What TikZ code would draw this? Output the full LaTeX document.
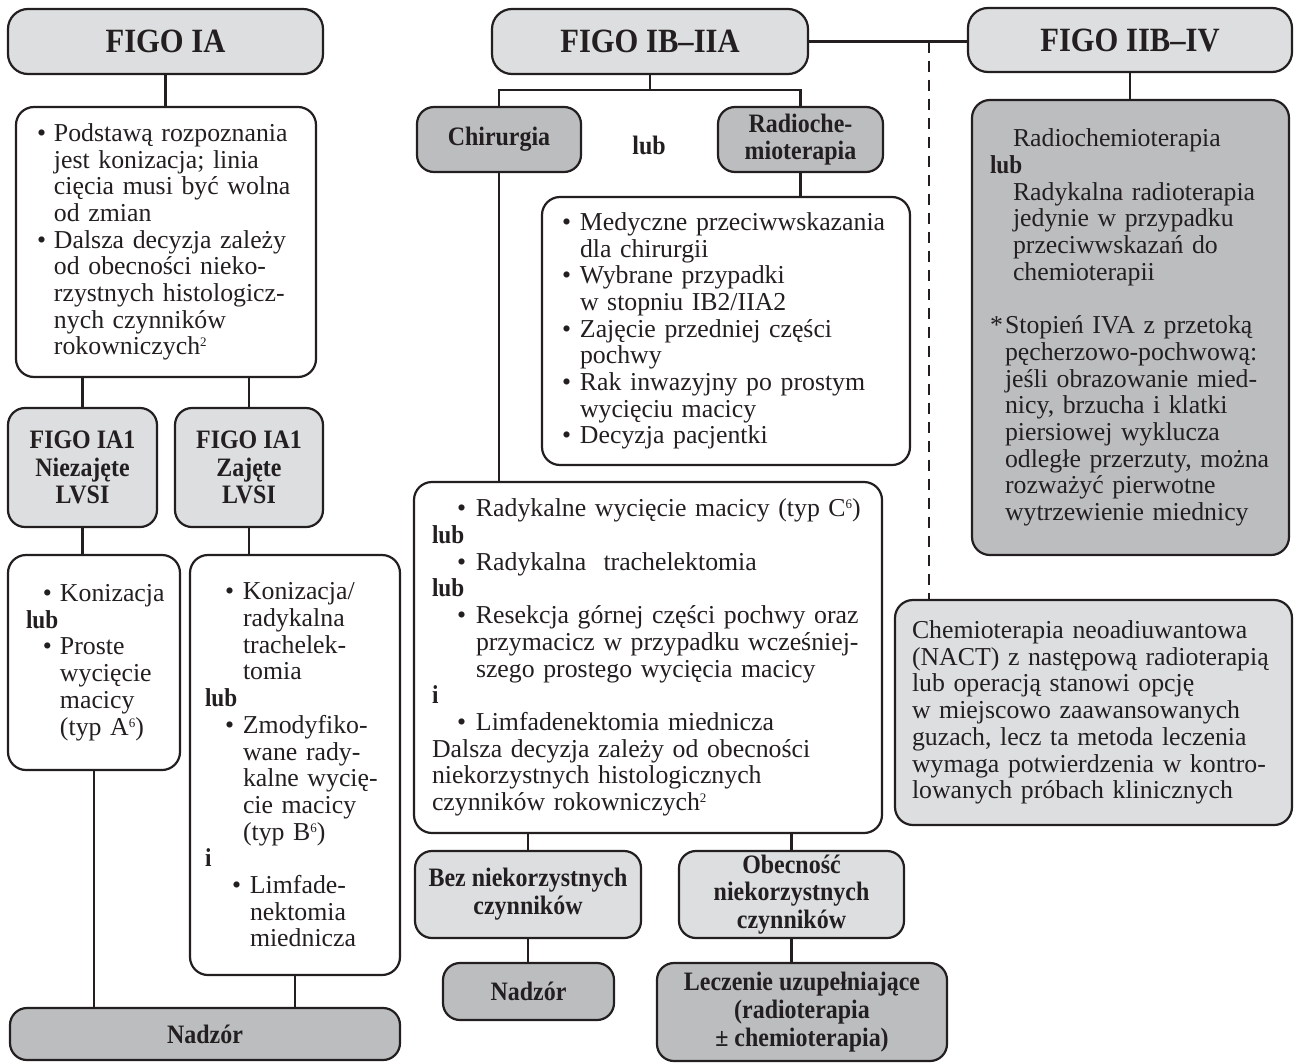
\documentclass[tikz,border=0pt]{standalone}
\usepackage{fontspec}
\setmainfont{Liberation Serif}[BoldFeatures={FakeStretch=0.9}]
\definecolor{ink}{HTML}{231F20}
\definecolor{lightg}{HTML}{DDDEE0}
\definecolor{darkg}{HTML}{BCBDBF}
\newcommand\bodyfont{\fontsize{25.8}{26.7}\selectfont}
\newcommand\headfont{\bfseries\fontsize{26.6}{27.8}\selectfont}
\newcommand\titlefont{\bfseries\fontsize{34}{36}\selectfont}
\newcommand\bl[1][17]{\makebox[#1pt][l]{\textbullet}}
\newcommand\ind[1]{\hspace*{#1pt}}
\newcommand\sups[1]{\raisebox{8pt}{\fontsize{13}{13}\selectfont #1}}
\newcommand\LS[1]{\leftskip=#1pt\relax\rightskip=0pt plus 1fil\relax\parindent=0pt\relax\hyphenpenalty=10000\relax}
\tikzset{
  basebox/.style={draw=ink, line width=2.2pt, inner sep=0pt, text=ink},
  titlebox/.style={basebox, fill=lightg, rounded corners=20pt, font=\titlefont, align=center},
  hbox/.style={basebox, rounded corners=17pt, font=\headfont, align=center},
  tbox/.style={basebox, rounded corners=18pt, font=\bodyfont, align=left},
  conn/.style={draw=ink, line width=2.2pt},
  dconn/.style={conn, dash pattern=on 11pt off 8pt}
}
\begin{document}
\begin{tikzpicture}[x=1pt,y=-1pt]
\useasboundingbox (0,0) rectangle (1298,1063);

% titles
\node[titlebox, minimum width=315pt, minimum height=65pt] (figoIA) at (165.5,41.5) {FIGO IA};
\node[titlebox, minimum width=316pt, minimum height=65pt] (figoIB) at (650,41.5) {FIGO IB–IIA};
\node[titlebox, minimum width=324pt, minimum height=64pt] (figoIIB) at (1130,40) {FIGO IIB–IV};

% left column
\node[tbox, fill=white, text width=300pt, minimum height=270pt] (iadesc) at (166,242) {\LS{21}\bl Podstawą rozpoznania\\
\ind{17}jest konizacja; linia\\
\ind{17}cięcia musi być wolna\\
\ind{17}od zmian\\
\bl Dalsza decyzja zależy\\
\ind{17}od obecności nieko-\\
\ind{17}rzystnych histologicz-\\
\ind{17}nych czynników\\
\ind{17}rokowniczych\sups{2}\par};

\node[hbox, fill=lightg, minimum width=149pt, minimum height=119pt] (ia1n) at (82.5,467.5) {FIGO IA1\\Niezajęte\\LVSI};
\node[hbox, fill=lightg, minimum width=148pt, minimum height=119pt] (ia1z) at (249,467.5) {FIGO IA1\\Zajęte\\LVSI};

\node[tbox, fill=white, text width=172pt, minimum height=215pt] (koniz) at (94,662.5) {\LS{18}\ind{17}\bl Konizacja\\
\textbf{lub}\\
\ind{17}\bl Proste\\
\ind{34}wycięcie\\
\ind{34}macicy\\
\ind{34}(typ A\sups{6})\par};

\node[tbox, fill=white, text width=210pt, minimum height=420pt] (koniz2) at (295,765) {\LS{15}\ind{20}\bl[18]Konizacja/\\
\ind{38}radykalna\\
\ind{38}trachelek-\\
\ind{38}tomia\\
\textbf{lub}\\
\ind{20}\bl[18]Zmodyfiko-\\
\ind{38}wane rady-\\
\ind{38}kalne wycię-\\
\ind{38}cie macicy\\
\ind{38}(typ B\sups{6})\\
\textbf{i}\\
\ind{27}\bl[18]Limfade-\\
\ind{45}nektomia\\
\ind{45}miednicza\par};

\node[hbox, fill=darkg, minimum width=390pt, minimum height=52pt] (nadzor1) at (205,1034) {Nadzór};

% middle column
\node[hbox, fill=darkg, minimum width=164pt, minimum height=65pt] (chir) at (499,139.5) {Chirurgia};
\node[font=\headfont, text=ink] (lubmid) at (649,145) {lub};
\node[hbox, fill=darkg, minimum width=165pt, minimum height=65pt] (radio) at (800.5,139.5) {Radioche-\\mioterapia};

\node[tbox, fill=white, text width=368pt, minimum height=268pt] (medy) at (726,331) {\LS{20}\bl[18]Medyczne przeciwwskazania\\
\ind{18}dla chirurgii\\
\bl[18]Wybrane przypadki\\
\ind{18}w stopniu IB2/IIA2\\
\bl[18]Zajęcie przedniej części\\
\ind{18}pochwy\\
\bl[18]Rak inwazyjny po prostym\\
\ind{18}wycięciu macicy\\
\bl[18]Decyzja pacjentki\par};

\node[tbox, fill=white, text width=468pt, minimum height=351pt] (big) at (648,657.5) {\LS{18}\ind{25}\bl[19]Radykalne wycięcie macicy (typ C\sups{6})\\
\textbf{lub}\\
\ind{25}\bl[19]Radykalna\ \ trachelektomia\\
\textbf{lub}\\
\ind{25}\bl[19]Resekcja górnej części pochwy oraz\\
\ind{44}przymacicz w przypadku wcześniej-\\
\ind{44}szego prostego wycięcia macicy\\
\textbf{i}\\
\ind{25}\bl[19]Limfadenektomia miednicza\\
Dalsza decyzja zależy od obecności\\
niekorzystnych histologicznych\\
czynników rokowniczych\sups{2}\par};

\node[hbox, fill=lightg, minimum width=226pt, minimum height=87pt] (bez) at (528,894.5) {Bez niekorzystnych\\czynników};
\node[hbox, fill=lightg, minimum width=225pt, minimum height=87pt] (obec) at (791.5,894.5) {Obecność\\niekorzystnych\\czynników};
\node[hbox, fill=darkg, minimum width=171pt, minimum height=57pt] (nadzor2) at (528.5,991.5) {Nadzór};
\node[hbox, fill=darkg, minimum width=290pt, minimum height=98pt] (lecz) at (802,1012) {Leczenie uzupełniające\\(radioterapia\\± chemioterapia)};

% right column
\node[tbox, fill=darkg, text width=317pt, minimum height=455pt] (rbox) at (1130.5,327.5) {\LS{18}\ind{23}Radiochemioterapia\\
\textbf{lub}\\
\ind{23}Radykalna radioterapia\\
\ind{23}jedynie w przypadku\\
\ind{23}przeciwwskazań do\\
\ind{23}chemioterapii\\[26.7pt]
\makebox[15pt][l]{*}Stopień IVA z przetoką\\
\ind{15}pęcherzowo-pochwową:\\
\ind{15}jeśli obrazowanie mied-\\
\ind{15}nicy, brzucha i klatki\\
\ind{15}piersiowej wyklucza\\
\ind{15}odległe przerzuty, można\\
\ind{15}rozważyć pierwotne\\
\ind{15}wytrzewienie miednicy\par};

\node[tbox, fill=lightg, text width=397pt, minimum height=225pt] (nact) at (1093.5,712.5) {\LS{17}Chemioterapia neoadiuwantowa\\
(NACT) z następową radioterapią\\
lub operacją stanowi opcję\\
w miejscowo zaawansowanych\\
guzach, lecz ta metoda leczenia\\
wymaga potwierdzenia w kontro-\\
lowanych próbach klinicznych\par};

% connectors
\draw[conn] (figoIA.south) -- (figoIA.south |- iadesc.north);
\draw[conn] (ia1n.north |- iadesc.south) -- (ia1n.north);
\draw[conn] (ia1z.north |- iadesc.south) -- (ia1z.north);
\draw[conn] (ia1n.south) -- (ia1n.south |- koniz.north);
\draw[conn] (ia1z.south) -- (ia1z.south |- koniz2.north);
\draw[conn] (koniz.south) -- (koniz.south |- nadzor1.north);
\draw[conn] (koniz2.south) -- (koniz2.south |- nadzor1.north);
\coordinate (split) at (650,90);
\draw[conn] (figoIB.south) -- (figoIB.south |- split);
\draw[conn] (chir.north) -- (chir.north |- split) -- (radio.north |- split) -- (radio.north);
\draw[conn] (radio.south) -- (radio.south |- medy.north);
\draw[conn] (chir.south) -- (chir.south |- big.north);
\draw[conn] (bez.north |- big.south) -- (bez.north);
\draw[conn] (obec.north |- big.south) -- (obec.north);
\draw[conn] (bez.south) -- (bez.south |- nadzor2.north);
\draw[conn] (obec.south) -- (obec.south |- lecz.north);
\draw[conn] (figoIB.east) -- (figoIB.east -| figoIIB.west);
\coordinate (dtop) at (929,41.5);
\draw[dconn] (dtop) -- (dtop |- nact.north);
\draw[conn] (figoIIB.south) -- (figoIIB.south |- rbox.north);
\end{tikzpicture}
\end{document}
